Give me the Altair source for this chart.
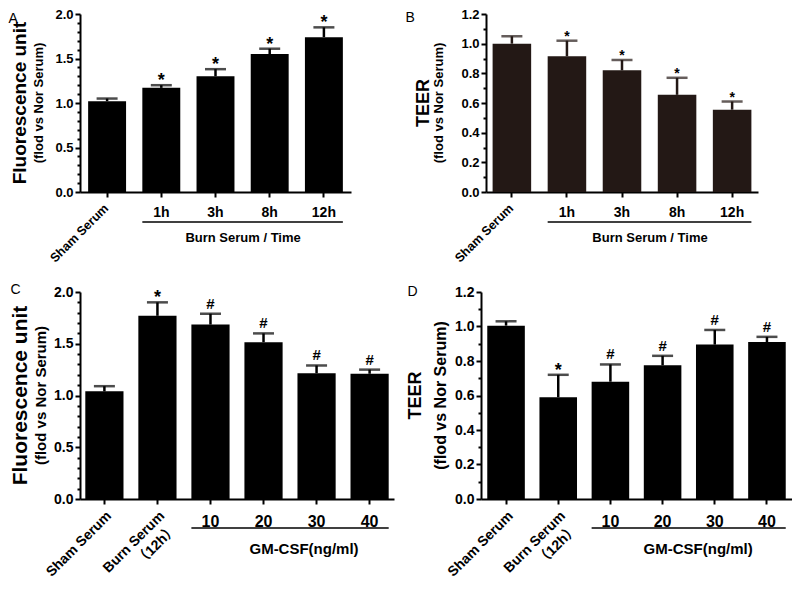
import json
import altair as alt
import pandas as pd

F = "Liberation Sans, Arial, Noto Sans CJK SC, sans-serif"

# ---------------- data ----------------
a_cats = ["Sham Serum", "1h", "3h", "8h", "12h"]
a_vals = [1.02, 1.17, 1.30, 1.55, 1.74]
a_errs = [1.05, 1.20, 1.38, 1.61, 1.85]
a_sigs = ["", "*", "*", "*", "*"]

b_cats = ["Sham Serum", "1h", "3h", "8h", "12h"]
b_vals = [1.00, 0.915, 0.82, 0.655, 0.555]
b_errs = [1.05, 1.02, 0.89, 0.77, 0.61]
b_sigs = ["", "*", "*", "*", "*"]

cd_cats = ["Sham Serum", "Burn Serum\n（12h）", "10", "20", "30", "40"]
c_vals = [1.04, 1.77, 1.685, 1.515, 1.215, 1.21]
c_errs = [1.09, 1.90, 1.79, 1.60, 1.29, 1.25]
c_sigs = ["", "*", "#", "#", "#", "#"]

d_vals = [1.005, 0.59, 0.68, 0.775, 0.895, 0.91]
d_errs = [1.03, 0.72, 0.78, 0.83, 0.98, 0.94]
d_sigs = ["", "*", "#", "#", "#", "#"]


def panel(letter, cats, vals, errs, sigs, rotated, group, group_label, ymax, major,
          width, height, color, ylabel, sub, s):
    n = len(cats)
    pi, po = s["pi"], s["po"]
    step = width / (n - pi + 2 * po)
    bw = step * (1 - pi)
    start = po * step
    g0 = cats.index(group[0])
    g1 = cats.index(group[-1])
    gx = (start + g0 * step + start + g1 * step + bw) / 2 + s["gshift"]

    df = pd.DataFrame({"cat": cats, "val": vals, "err": errs, "sig": sigs,
                       "rot": [c if c in rotated else "" for c in cats]})
    gdf = pd.DataFrame({"a": [group[0]], "b": [group[-1]]})

    ticks = [round(i * 0.1, 1) for i in range(int(round(ymax * 10)) + 1)]
    k = int(round(1 / major))
    is_major = f"abs(datum.value*{k} - round(datum.value*{k})) < 0.001"
    hide = " || ".join("datum.value == " + json.dumps(c, ensure_ascii=False) for c in rotated)

    xscale = alt.Scale(domain=cats, paddingInner=pi, paddingOuter=po)
    xaxis = alt.Axis(
        title=group_label, titleX=gx, titleY=s["gly"], titleBaseline="middle", titleAlign="center",
        titleFont=F, titleFontSize=s["gfs"], titleFontWeight="bold", titleColor="black",
        labelExpr=f"({hide}) ? '' : datum.label", labelAngle=0, labelFont=F,
        labelFontSize=s["xfs"], labelFontWeight="bold", labelColor="black",
        labelPadding=s["xlp"], labelBaseline="top",
        tickSize=5, tickWidth=2, tickColor="black", domainWidth=2, domainColor="black")
    yscale = alt.Scale(domain=[0, ymax], nice=False)
    yaxis = alt.Axis(
        title=letter, titleAngle=0, titleX=s["lx"], titleY=s["ly"], titleAlign="left",
        titleBaseline="alphabetic", titleFont=F, titleFontSize=14, titleFontWeight="normal",
        titleColor="black", values=ticks,
        labelExpr=f"{is_major} ? format(datum.value, '.1f') : ''",
        labelFont=F, labelFontSize=s["yfs"], labelFontWeight="bold", labelColor="black",
        labelPadding=2,
        tickSize={"condition": {"test": is_major, "value": 5}, "value": 3},
        tickWidth=2, tickColor="black", domainWidth=2, domainColor="black")

    def xq(field, **kw):
        return alt.X(field, scale=xscale, axis=xaxis, **kw)

    def yq(field):
        return alt.Y(field, scale=yscale, axis=yaxis)

    base = alt.Chart(df)
    bars = base.mark_bar(color=color).encode(x=xq("cat:N"), y=yq("val:Q"))
    eline = base.mark_rule(color=color, strokeWidth=2.5).encode(
        x=xq("cat:N"), y=yq("val:Q"), y2="err:Q")
    cap = base.mark_tick(color=color, orient="horizontal", size=s["cap"], thickness=2.5).encode(
        x=xq("cat:N"), y=yq("err:Q"))
    stars = base.transform_filter("datum.sig == '*'").mark_text(
        text="*", font=F, fontSize=s["sfs"], fontWeight="bold", baseline="alphabetic",
        dy=s["sdy"], color="black").encode(x=xq("cat:N"), y=yq("err:Q"))
    hashes = base.transform_filter("datum.sig == '#'").mark_text(
        text="#", font=F, fontSize=s["hfs"], fontWeight="bold", baseline="alphabetic",
        dy=s["hdy"], color="black").encode(x=xq("cat:N"), y=yq("err:Q"))
    rot = base.transform_filter("datum.rot != ''").mark_text(
        angle=315, align="right", baseline="top", font=F, fontSize=s["rfs"], fontWeight="bold",
        lineBreak="\n", lineHeight=s["rlh"], dx=s["rdx"], color="black").encode(
        x=xq("cat:N"), y=alt.value(height + s["rdy"]), text="rot:N")
    grule = alt.Chart(gdf).mark_rule(color="black", strokeWidth=1.5).encode(
        x=xq("a:N", bandPosition=0), x2=alt.X2("b:N", bandPosition=1),
        y=alt.value(height + s["gry"]))

    return alt.layer(bars, eline, cap, stars, hashes, rot, grule).properties(
        width=width, height=height,
        title=alt.TitleParams(
            text=ylabel, subtitle=sub, orient="left", anchor="middle", frame="group",
            font=F, fontSize=s["tfs"], fontWeight="bold", color="black",
            subtitleFont=F, subtitleFontSize=s["subfs"], subtitleFontWeight="bold",
            subtitleColor="black", offset=s["toff"], subtitlePadding=s["tsp"]))


sA = dict(pi=0.3, po=0.15, gshift=0, gly=45, gfs=13, xfs=14, xlp=8, yfs=13, cap=21,
          sfs=18, sdy=1, hfs=15, hdy=-5, rfs=12.5, rlh=16, rdx=-7, rdy=5, gry=30,
          tfs=19, subfs=13, toff=-38, tsp=3, lx=-72, ly=8)
sB = dict(sA, po=0.12, sfs=14, sdy=0, tfs=18, toff=-41, tsp=0, lx=-81, ly=7)
sC = dict(pi=0.28, po=0.1, gshift=13.5, gly=49, gfs=15, xfs=16, xlp=9, yfs=14, cap=21,
          sfs=18, sdy=1, hfs=15, hdy=-5, rfs=14, rlh=18, rdx=0, rdy=10, gry=29,
          tfs=21, subfs=15, toff=-39, tsp=3, lx=-70, ly=1)
sD = dict(sC, po=0.12, gshift=9, tfs=18, subfs=16, toff=-42, tsp=8, lx=-74, ly=3.5)

pA = panel("A", a_cats, a_vals, a_errs, a_sigs, ["Sham Serum"], a_cats[1:], "Burn Serum / Time",
           2.0, 0.5, 271, 178, "#000000", "Fluorescence unit", "(flod vs Nor Serum)", sA)
pB = panel("B", b_cats, b_vals, b_errs, b_sigs, ["Sham Serum"], b_cats[1:], "Burn Serum / Time",
           1.2, 0.2, 272, 178, "#231815", "TEER", "(flod vs Nor Serum)", sB)
pC = panel("C", cd_cats, c_vals, c_errs, c_sigs, cd_cats[:2], cd_cats[2:], "GM-CSF(ng/ml)",
           2.0, 0.5, 314, 207, "#000000", "Fluorescence unit", "(flod vs Nor Serum)", sC)
pD = panel("D", cd_cats, d_vals, d_errs, d_sigs, cd_cats[:2], cd_cats[2:], "GM-CSF(ng/ml)",
           1.2, 0.2, 311, 207, "#000000", "TEER", "(flod vs Nor Serum)", sD)

chart = alt.vconcat(
    alt.hconcat(pA, pB, spacing=135, bounds="flush"),
    alt.hconcat(pC, pD, spacing=87, bounds="flush"),
    spacing=17,
).properties(padding=0).configure_view(stroke=None).configure_axis(grid=False)

chart.save("out.html", embed_options={"renderer": "svg", "actions": False})
